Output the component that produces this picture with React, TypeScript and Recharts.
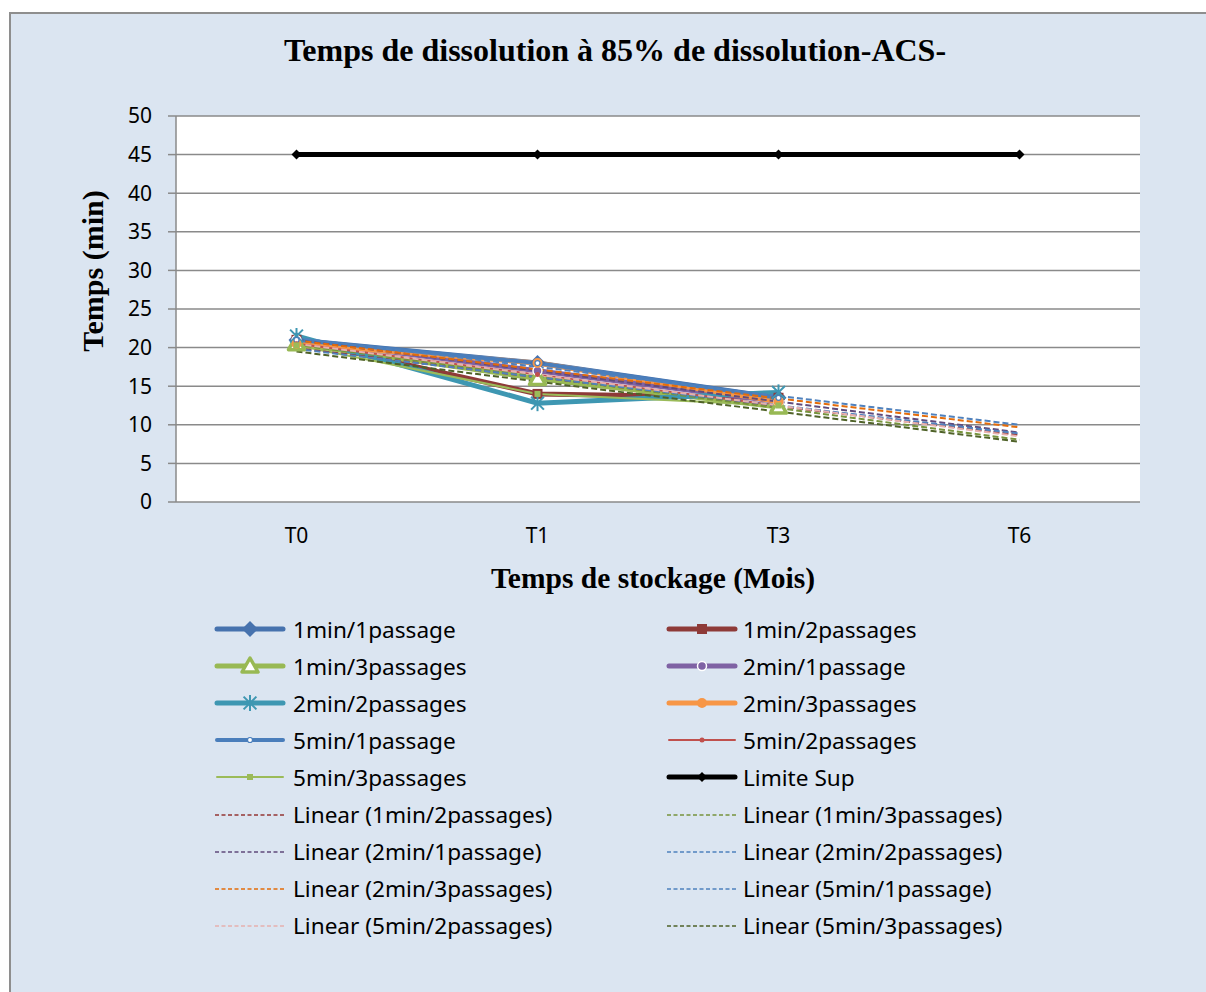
import React from 'react';
import { ComposedChart, Line, XAxis, YAxis, CartesianGrid } from 'recharts';

// ---- data ----
const categories = ['T0', 'T1', 'T3', 'T6'];
const yTicks = [0, 5, 10, 15, 20, 25, 30, 35, 40, 45, 50];
const boundaryTicks = [0, 1, 2, 3, 4];

const v1min1p = [21, 18, 13.5, null];
const v1min2p = [21, 14, 13.5, null];
const v1min3p = [20.5, 16, 12.3, null];
const v2min1p = [21, 17, 13, null];
const v2min2p = [21.5, 12.8, 14.2, null];
const v2min3p = [20.5, 18, 13, null];
const v5min1p = [21, 18, 13.5, null];
const v5min2p = [20.5, 16.5, 12.5, null];
const v5min3p = [20.3, 14, 12.5, null];
const vLimite = [45, 45, 45, 45];

const FONT = '"Noto Sans", "Open Sans", sans-serif';
const SERIF = '"Liberation Serif", "Times New Roman", serif';

type Mk = 'diamond' | 'square' | 'triangle' | 'star' | 'circle' | 'circleWhite' | 'ring' | 'dot' | 'smallSquare' | 'none';

interface SeriesDef {
  key: string;
  name: string;
  values: (number | null)[];
  color: string;
  width: number;
  marker: Mk;
  size: number;
  trend?: string;
}

const series: SeriesDef[] = [
  { key: 's1', name: '1min/1passage', values: v1min1p, color: '#4672AE', width: 5, marker: 'diamond', size: 8 },
  { key: 's2', name: '1min/2passages', values: v1min2p, color: '#8E3A38', width: 5, marker: 'square', size: 5, trend: '#943634' },
  { key: 's3', name: '1min/3passages', values: v1min3p, color: '#98B954', width: 5, marker: 'triangle', size: 8, trend: '#77933C' },
  { key: 's4', name: '2min/1passage', values: v2min1p, color: '#7F62A4', width: 5, marker: 'circleWhite', size: 4.5, trend: '#604A7B' },
  { key: 's5', name: '2min/2passages', values: v2min2p, color: '#3E97B2', width: 5, marker: 'star', size: 8, trend: '#4F81BD' },
  { key: 's6', name: '2min/3passages', values: v2min3p, color: '#F79646', width: 5, marker: 'circle', size: 5, trend: '#E46C0A' },
  { key: 's7', name: '5min/1passage', values: v5min1p, color: '#4A7EBB', width: 4, marker: 'ring', size: 2.5, trend: '#4F81BD' },
  { key: 's8', name: '5min/2passages', values: v5min2p, color: '#C0504D', width: 2, marker: 'dot', size: 2.5, trend: '#E6B0AE' },
  { key: 's9', name: '5min/3passages', values: v5min3p, color: '#9BBB59', width: 2, marker: 'smallSquare', size: 3, trend: '#4F6228' },
  { key: 'lim', name: 'Limite Sup', values: vLimite, color: '#000000', width: 5, marker: 'diamond', size: 5 },
];

// linear trendline (least squares on the known points, like Excel)
function trendValues(vals: (number | null)[]): number[] {
  const pts = vals.map((v, i) => [i, v] as [number, number | null]).filter((p) => p[1] != null) as [number, number][];
  const n = pts.length;
  const mx = pts.reduce((a, p) => a + p[0], 0) / n;
  const my = pts.reduce((a, p) => a + p[1], 0) / n;
  let num = 0;
  let den = 0;
  pts.forEach((p) => {
    num += (p[0] - mx) * (p[1] - my);
    den += (p[0] - mx) * (p[0] - mx);
  });
  const b = num / den;
  return vals.map((_, i) => my + b * (i - mx));
}

const trends = series.filter((s) => s.trend).map((s) => ({
  key: 't_' + s.key,
  name: 'Linear (' + s.name + ')',
  color: s.trend as string,
  values: trendValues(s.values),
}));

const data = categories.map((c, i) => {
  const row: Record<string, any> = { t: c, xi: i + 0.5 };
  series.forEach((s) => { row[s.key] = s.values[i]; });
  trends.forEach((t) => { row[t.key] = t.values[i]; });
  return row;
});

function Marker({ cx, cy, type, color, size }: { cx: number; cy: number; type: Mk; color: string; size: number }) {
  const s = size;
  switch (type) {
    case 'diamond':
      return <polygon points={`${cx},${cy - s} ${cx + s},${cy} ${cx},${cy + s} ${cx - s},${cy}`} fill={color} />;
    case 'square':
      return <rect x={cx - s} y={cy - s} width={2 * s} height={2 * s} fill={color} />;
    case 'smallSquare':
      return <rect x={cx - s} y={cy - s} width={2 * s} height={2 * s} fill={color} />;
    case 'triangle':
      return (
        <polygon
          points={`${cx},${cy - s} ${cx + s},${cy + s * 0.75} ${cx - s},${cy + s * 0.75}`}
          fill="#ffffff"
          stroke={color}
          strokeWidth={3.5}
          strokeLinejoin="round"
        />
      );
    case 'star': {
      const d = s * 0.8;
      return (
        <g stroke={color} strokeWidth={2}>
          <line x1={cx} y1={cy - s} x2={cx} y2={cy + s} />
          <line x1={cx - d} y1={cy - d} x2={cx + d} y2={cy + d} />
          <line x1={cx - d} y1={cy + d} x2={cx + d} y2={cy - d} />
        </g>
      );
    }
    case 'circle':
      return <circle cx={cx} cy={cy} r={s} fill={color} />;
    case 'circleWhite':
      return <circle cx={cx} cy={cy} r={s} fill={color} stroke="#ffffff" strokeWidth={1.5} />;
    case 'ring':
      return <circle cx={cx} cy={cy} r={s} fill="#ffffff" stroke={color} strokeWidth={1.2} />;
    case 'dot':
      return <circle cx={cx} cy={cy} r={s} fill={color} />;
    default:
      return <g />;
  }
}

function LegendSample({ s, dashed }: { s?: SeriesDef; dashed?: string }) {
  if (dashed) {
    return (
      <svg width={72} height={20} style={{ display: 'block' }}>
        <line x1={1} y1={10} x2={71} y2={10} stroke={dashed} strokeWidth={1.5} strokeDasharray="4 2.5" />
      </svg>
    );
  }
  const sd = s as SeriesDef;
  return (
    <svg width={72} height={24} style={{ display: 'block' }}>
      <line x1={3} y1={12} x2={69} y2={12} stroke={sd.color} strokeWidth={sd.width} strokeLinecap="round" />
      <Marker cx={36} cy={12} type={sd.marker} color={sd.color} size={sd.size} />
    </svg>
  );
}

const legendItems: { name: string; s?: SeriesDef; dashed?: string }[] = [
  ...series.map((s) => ({ name: s.name, s })),
  ...trends.map((t) => ({ name: t.name, dashed: t.color })),
];

export default function App() {
  return (
    <div style={{ position: 'absolute', left: 0, top: 0, width: 1206, height: 992, overflow: 'hidden', background: '#ffffff' }}>
      <div
        style={{
          position: 'absolute',
          left: 9,
          top: 12,
          width: 1220,
          height: 1000,
          background: '#DBE5F1',
          border: '2px solid #8E8E8E',
          boxSizing: 'border-box',
        }}
      />
      <div
        style={{
          position: 'absolute',
          left: 0,
          top: 31,
          width: 1230,
          textAlign: 'center',
          fontFamily: SERIF,
          fontWeight: 'bold',
          fontSize: 32,
          lineHeight: '38px',
          color: '#000',
        }}
      >
        Temps de dissolution à 85% de dissolution-ACS-
      </div>
      <div
        style={{
          position: 'absolute',
          left: 93,
          top: 271,
          width: 0,
          height: 0,
        }}
      >
        <div
          style={{
            position: 'absolute',
            left: -150,
            top: -18,
            width: 300,
            textAlign: 'center',
            transform: 'rotate(-90deg)',
            fontFamily: SERIF,
            fontWeight: 'bold',
            fontSize: 30,
            lineHeight: '36px',
            whiteSpace: 'nowrap',
          }}
        >
          Temps (min)
        </div>
      </div>
      <div
        style={{
          position: 'absolute',
          left: 353,
          top: 560,
          width: 600,
          textAlign: 'center',
          fontFamily: SERIF,
          fontWeight: 'bold',
          fontSize: 29.5,
          lineHeight: '36px',
        }}
      >
        Temps de stockage (Mois)
      </div>

      <div style={{ position: 'absolute', left: 0, top: 0 }}>
        <ComposedChart width={1206} height={992} data={data} margin={{ top: 116, right: 66, left: 116, bottom: 450 }}>
          <CartesianGrid horizontal vertical={false} stroke="#8A8A8A" strokeWidth={1.5} fill="#ffffff" />
          <XAxis
            xAxisId="b"
            type="number"
            dataKey="xi"
            domain={[0, 4]}
            ticks={boundaryTicks}
            allowDataOverflow
            height={0}
            axisLine={{ stroke: '#8A8A8A', strokeWidth: 1.5 }}
            tickLine={{ stroke: '#8A8A8A', strokeWidth: 1.5 }}
            tickSize={8}
            tick={() => <g />}
          />
          <XAxis
            dataKey="t"
            scale="band"
            height={40}
            axisLine={false}
            tickLine={false}
            tickSize={0}
            tickMargin={26}
            interval={0}
            tick={{ fill: '#000', fontSize: 21, fontFamily: FONT }}
          />
          <YAxis
            width={60}
            domain={[0, 50]}
            ticks={yTicks}
            interval={0}
            axisLine={{ stroke: '#8A8A8A', strokeWidth: 1.5 }}
            tickLine={{ stroke: '#8A8A8A', strokeWidth: 1.5 }}
            tickSize={8}
            tickMargin={16}
            tick={{ fill: '#000', fontSize: 21, fontFamily: FONT }}
          />
          {series.map((s) => (
            <Line
              key={s.key}
              dataKey={s.key}
              name={s.name}
              stroke={s.color}
              strokeWidth={s.width}
              isAnimationActive={false}
              connectNulls={false}
              dot={(p: any) => {
                if (p.cx == null || p.cy == null || p.value == null) return <g key={s.key + p.index} />;
                return <Marker key={s.key + p.index} cx={p.cx} cy={p.cy} type={s.marker} color={s.color} size={s.size} />;
              }}
              activeDot={false}
            />
          ))}
          {trends.map((t) => (
            <Line
              key={t.key}
              dataKey={t.key}
              name={t.name}
              stroke={t.color}
              strokeWidth={2}
              strokeDasharray="6 3"
              dot={false}
              activeDot={false}
              isAnimationActive={false}
            />
          ))}
        </ComposedChart>
      </div>

      {legendItems.map((it, i) => {
        const col = i % 2;
        const row = Math.floor(i / 2);
        const cy = 629 + row * 37.1;
        const left = col === 0 ? 214 : 666;
        return (
          <div
            key={it.name}
            style={{ position: 'absolute', left, top: cy - 14, height: 28, display: 'flex', alignItems: 'center' }}
          >
            <LegendSample s={it.s} dashed={it.dashed} />
            <span style={{ marginLeft: col === 0 ? 7 : 5, fontFamily: FONT, fontSize: 22.6, color: '#000', whiteSpace: 'nowrap' }}>
              {it.name}
            </span>
          </div>
        );
      })}
    </div>
  );
}
